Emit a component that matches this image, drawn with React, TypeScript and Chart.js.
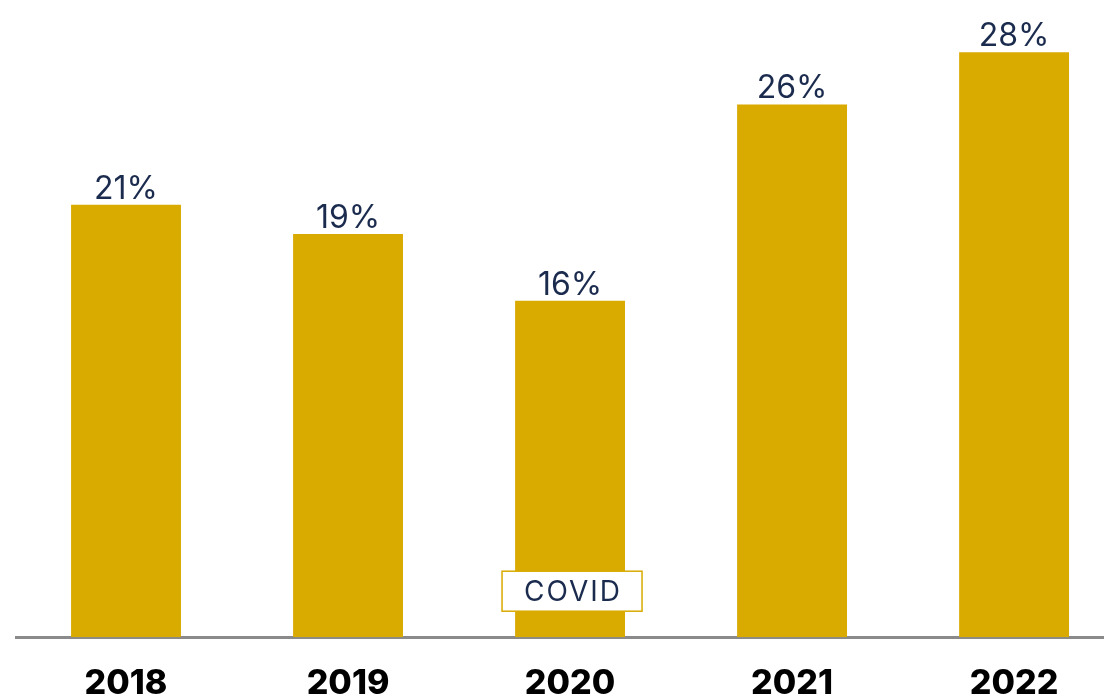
import React, { useEffect, useRef } from "react";
import { Chart, registerables } from "chart.js";

Chart.register(...registerables);

const years = ["2018", "2019", "2020", "2021", "2022"];
const shares = [20.7, 19.3, 16.1, 25.5, 28.0];
const shareLabels = ["21%", "19%", "16%", "26%", "28%"];
const noteIndex = 2;
const noteText = "COVID";

const GOLD = "#D9AA00";
const NAVY = "#1B2B4E";

export default function App() {
  const ref = useRef<HTMLCanvasElement | null>(null);

  useEffect(() => {
    document.body.style.margin = "0";
    document.body.style.overflow = "hidden";
    const canvas = ref.current;
    if (!canvas) return;

    const labelPlugin = {
      id: "barLabels",
      afterDatasetsDraw(chart: any) {
        const ctx = chart.ctx;
        const meta = chart.getDatasetMeta(0);
        ctx.save();
        ctx.fillStyle = NAVY;
        ctx.font = "400 32px Inter, 'Noto Sans', sans-serif";
        ctx.textAlign = "center";
        ctx.textBaseline = "alphabetic";
        meta.data.forEach((bar: any, i: number) => {
          ctx.fillText(shareLabels[i], bar.x, bar.y - 6);
        });
        const b = meta.data[noteIndex];
        if (b) {
          const w = 140;
          const h = 40;
          const cx = b.x + 2;
          const cy = chart.chartArea.bottom - 46;
          ctx.fillStyle = "#FFFFFF";
          ctx.fillRect(cx - w / 2, cy - h / 2, w, h);
          ctx.strokeStyle = GOLD;
          ctx.lineWidth = 1.5;
          ctx.strokeRect(cx - w / 2, cy - h / 2, w, h);
          ctx.fillStyle = NAVY;
          ctx.font = "400 28px Inter, 'Noto Sans', sans-serif";
          (ctx as any).letterSpacing = "2px";
          ctx.textBaseline = "middle";
          ctx.fillText(noteText, cx + 1, cy + 1);
        }
        ctx.restore();
      },
    };

    const chart = new Chart(canvas, {
      type: "bar",
      data: {
        datasets: [
          {
            data: shares.map((v, i) => ({ x: i, y: v })),
            backgroundColor: GOLD,
            borderWidth: 0,
            categoryPercentage: 1,
            barPercentage: 0.495,
          },
        ],
      },
      options: {
        animation: false,
        responsive: false,
        maintainAspectRatio: false,
        layout: { padding: { left: 16, right: 0, top: 0, bottom: 0 } },
        plugins: { legend: { display: false }, tooltip: { enabled: false } },
        scales: {
          x: {
            type: "linear",
            offset: false,
            bounds: "ticks",
            min: -0.4955,
            max: 4.405,
            afterBuildTicks: (axis: any) => {
              axis.ticks = years.map((_, i) => ({ value: i }));
            },
            grid: { display: false, drawTicks: false },
            border: { display: true, color: "#8A8A8A", width: 3 },
            ticks: {
              autoSkip: false,
              maxRotation: 0,
              padding: 26,
              color: "#000000",
              font: { family: "Inter, 'Noto Sans', sans-serif", size: 34, weight: "800", lineHeight: 1.2 },
              callback: (v: any) => years[v] ?? "",
            },
          },
          y: {
            display: false,
            min: 0,
            max: 30.5,
          },
        },
      },
      plugins: [labelPlugin],
    } as any);

    return () => chart.destroy();
  }, []);

  return (
    <div style={{ width: 1104, height: 698, overflow: "hidden" }}>
      <canvas ref={ref} width={1104} height={730} style={{ display: "block" }} />
    </div>
  );
}
